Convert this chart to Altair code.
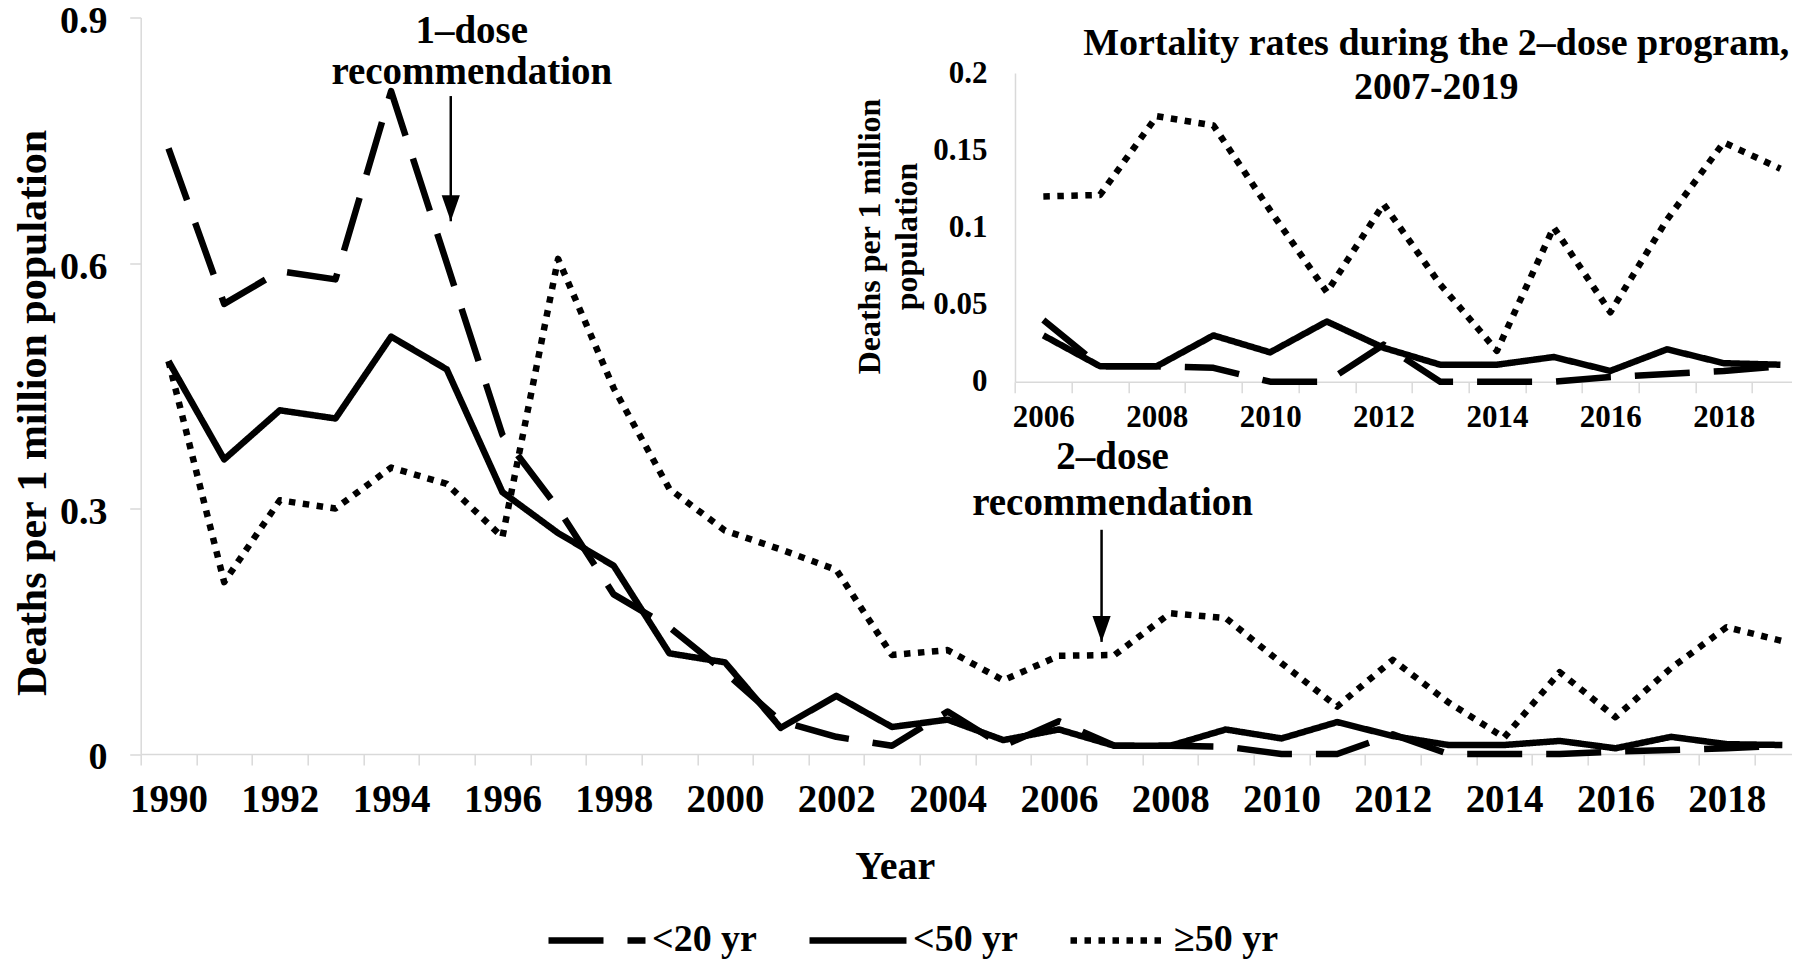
import altair as alt
import pandas as pd

# ---------------- data ----------------
years = list(range(1990, 2020))
groups = ["<20 yr", "<50 yr", "≥50 yr"]
lt20 = [0.74, 0.55, 0.59, 0.58, 0.81, 0.60, 0.39, 0.30, 0.195, 0.155,
        0.10, 0.04, 0.021, 0.01, 0.052, 0.01, 0.04, 0.01, 0.01, 0.009,
        0.0, 0.0, 0.024, 0.0, 0.0, 0.0, 0.003, 0.005, 0.007, 0.01]
lt50 = [0.48, 0.36, 0.42, 0.41, 0.51, 0.47, 0.32, 0.27, 0.23, 0.123,
        0.112, 0.032, 0.071, 0.033, 0.042, 0.017, 0.03, 0.01, 0.01, 0.03,
        0.019, 0.039, 0.022, 0.011, 0.011, 0.016, 0.007, 0.021, 0.012, 0.011]
ge50 = [0.48, 0.21, 0.31, 0.30, 0.35, 0.33, 0.265, 0.605, 0.447, 0.324,
        0.273, 0.25, 0.225, 0.121, 0.127, 0.09, 0.12, 0.121, 0.172, 0.166,
        0.111, 0.058, 0.115, 0.063, 0.02, 0.10, 0.045, 0.105, 0.155, 0.138]
inset_first_year = 2006

main_y_ticks = [0, 0.3, 0.6, 0.9]
inset_y_ticks = [0, 0.05, 0.1, 0.15, 0.2]

# annotation anchors (data coordinates)
ann1_lines = ["1–dose", "recommendation"]
ann1_year = 1995
ann1_values = [0.8835, 0.8335]
ann2_lines = ["2–dose", "recommendation"]
ann2_year = 2007
ann2_values = [0.363, 0.3067]
arrow1 = {"year": 1995, "top": 0.804, "tip": 0.651}
arrow2 = {"year": 2007, "top": 0.274, "tip": 0.137}
inset_title_lines = ["Mortality rates during the 2–dose program,", "2007-2019"]
inset_title_year = 2013
inset_title_values = [0.2188, 0.1905]

# ---------------- tables ----------------
main_df = pd.DataFrame({
    "year": years * 3,
    "value": lt20 + lt50 + ge50,
    "group": [g for g in groups for _ in years],
})
i0 = years.index(inset_first_year)
inset_years = years[i0:]
inset_df = pd.DataFrame({
    "yr": inset_years * 3,
    "val": lt20[i0:] + lt50[i0:] + ge50[i0:],
    "group": [g for g in groups for _ in inset_years],
})
ann1_df = pd.DataFrame({"year": [ann1_year] * 2, "value": ann1_values, "label": ann1_lines})
ann2_df = pd.DataFrame({"year": [ann2_year] * 2, "value": ann2_values, "label": ann2_lines})
arr1_df = pd.DataFrame([arrow1])
arr2_df = pd.DataFrame([arrow2])
ititle_df = pd.DataFrame({"yr": [inset_title_year] * 2, "val": inset_title_values,
                          "label": inset_title_lines})

FONT = "Liberation Serif"
GRAY = "#d9d9d9"
W, H = 1651, 736.5
MAIN_X_RANGE = [0, 1669.5]
INSET_X_RANGE = [874.3, 1668.1]
INSET_Y_RANGE = [364.2, 55.5]
LW = 6.5

dash_scale = alt.Scale(domain=groups, range=[[55, 24], [1, 0], [6.5, 7.5]])
even_labels = "datum.value % 2 == 0 ? datum.label : ''"


def main_x_scale():
    return alt.Scale(type="band", domain=years, range=MAIN_X_RANGE,
                     paddingInner=0, paddingOuter=0)


def main_y_scale():
    return alt.Scale(domain=[0, 0.9], nice=False, range=[H, 0])


def inset_x_scale():
    return alt.Scale(type="band", domain=inset_years, range=INSET_X_RANGE,
                     paddingInner=0, paddingOuter=0)


def inset_y_scale():
    return alt.Scale(domain=[0, 0.2], nice=False, range=INSET_Y_RANGE)


x_main = alt.X("year:O", scale=main_x_scale(), axis=alt.Axis(
    title="Year", titleX=754, titleY=113, titleBaseline="middle", titleFontSize=40,
    labelExpr=even_labels, labelFontSize=39, labelBaseline="middle", labelPadding=34.5,
    labelAngle=0, labelOverlap=False, tickBand="extent", tickSize=11))
y_main = alt.Y("value:Q", scale=main_y_scale(), axis=alt.Axis(
    values=main_y_ticks, format="~g", title="Deaths per 1 million population",
    titleX=-107.7, titleY=395, titleAngle=270, titleBaseline="middle", titleAlign="center",
    titleFontSize=42, labelFontSize=38, labelBaseline="middle", labelPadding=22.7,
    labelOffset=4, tickSize=11))

legend = alt.Legend(
    orient="none", legendX=404.3, legendY=871, direction="horizontal", title=None,
    symbolType="stroke", symbolSize=9409, symbolStrokeWidth=LW, symbolStrokeColor="black",
    labelFont=FONT, labelFontSize=38, labelFontWeight="bold", labelColor="black",
    labelOffset=3, columnPadding=38, padding=0)

main_lines = alt.Chart(main_df).mark_line(
    color="black", strokeWidth=LW, strokeCap="butt", strokeJoin="round"
).encode(x=x_main, y=y_main,
         strokeDash=alt.StrokeDash("group:N", scale=dash_scale, legend=legend))

text_style = dict(font=FONT, fontSize=39, fontWeight="bold", color="black",
                  align="center", baseline="middle")


def ann_text(df, dx):
    return alt.Chart(df).mark_text(dx=dx, **text_style).encode(
        x=alt.X("year:O", scale=main_x_scale(), axis=None),
        y=alt.Y("value:Q", scale=main_y_scale(), axis=None),
        text="label:N")


HEAD = "M-0.7,-2L0.7,-2L0,0Z"


def arrow_rule(df, xoff):
    return alt.Chart(df).mark_rule(color="black", strokeWidth=2.5, xOffset=xoff).encode(
        x=alt.X("year:O", scale=main_x_scale(), axis=None),
        y=alt.Y("top:Q", scale=main_y_scale(), axis=None), y2="tip:Q")


def arrow_head(df, xoff):
    return alt.Chart(df).mark_point(shape=HEAD, size=676, filled=True, color="black",
                                    opacity=1, strokeWidth=0, xOffset=xoff).encode(
        x=alt.X("year:O", scale=main_x_scale(), axis=None),
        y=alt.Y("tip:Q", scale=main_y_scale(), axis=None))


inset_lines = alt.Chart(inset_df).mark_line(
    color="black", strokeWidth=LW, strokeCap="butt", strokeJoin="round"
).encode(
    x=alt.X("yr:O", scale=inset_x_scale(), axis=alt.Axis(
        orient="bottom", offset=-372.3, title=None, labelExpr=even_labels,
        labelFontSize=31, labelBaseline="middle", labelPadding=25, labelAngle=0,
        labelOverlap=False, tickBand="extent", tickSize=11)),
    y=alt.Y("val:Q", scale=inset_y_scale(), axis=alt.Axis(
        orient="left", offset=-874.3, values=inset_y_ticks, format="~g",
        ticks=False, labelPadding=28, labelFontSize=31, labelBaseline="middle",
        title=["Deaths per 1 million", "population"], titleX=-145, titleY=218.5,
        titleAngle=270, titleBaseline="middle", titleAlign="center", titleFontSize=32,
        titleLineHeight=37)),
    strokeDash=alt.StrokeDash("group:N", scale=dash_scale, legend=None),
)
inset_title = alt.Chart(ititle_df).mark_text(
    dx=-4, font=FONT, fontSize=38, fontWeight="bold", color="black",
    align="center", baseline="middle"
).encode(
    x=alt.X("yr:O", scale=inset_x_scale(), axis=None),
    y=alt.Y("val:Q", scale=inset_y_scale(), axis=None),
    text="label:N")

chart = alt.layer(
    main_lines,
    inset_lines,
    ann_text(ann1_df, 25),
    ann_text(ann2_df, -2),
    arrow_rule(arr1_df, 4), arrow_head(arr1_df, 4),
    arrow_rule(arr2_df, -13), arrow_head(arr2_df, -13),
    inset_title,
).resolve_scale(
    x="independent", y="independent", strokeDash="shared"
).properties(
    width=W, height=H,
    autosize=alt.AutoSizeParams(type="none"),
    padding={"left": 132.7, "top": 9.5, "right": 0, "bottom": 207},
    background="white",
).configure_view(stroke=None).configure_axis(
    labelFont=FONT, titleFont=FONT, labelFontWeight="bold", titleFontWeight="bold",
    labelColor="black", titleColor="black", domainColor=GRAY, domainWidth=1.5,
    tickColor=GRAY, tickWidth=1.5, grid=False)

chart.save("out.html", embed_options={"renderer": "svg", "actions": False})
